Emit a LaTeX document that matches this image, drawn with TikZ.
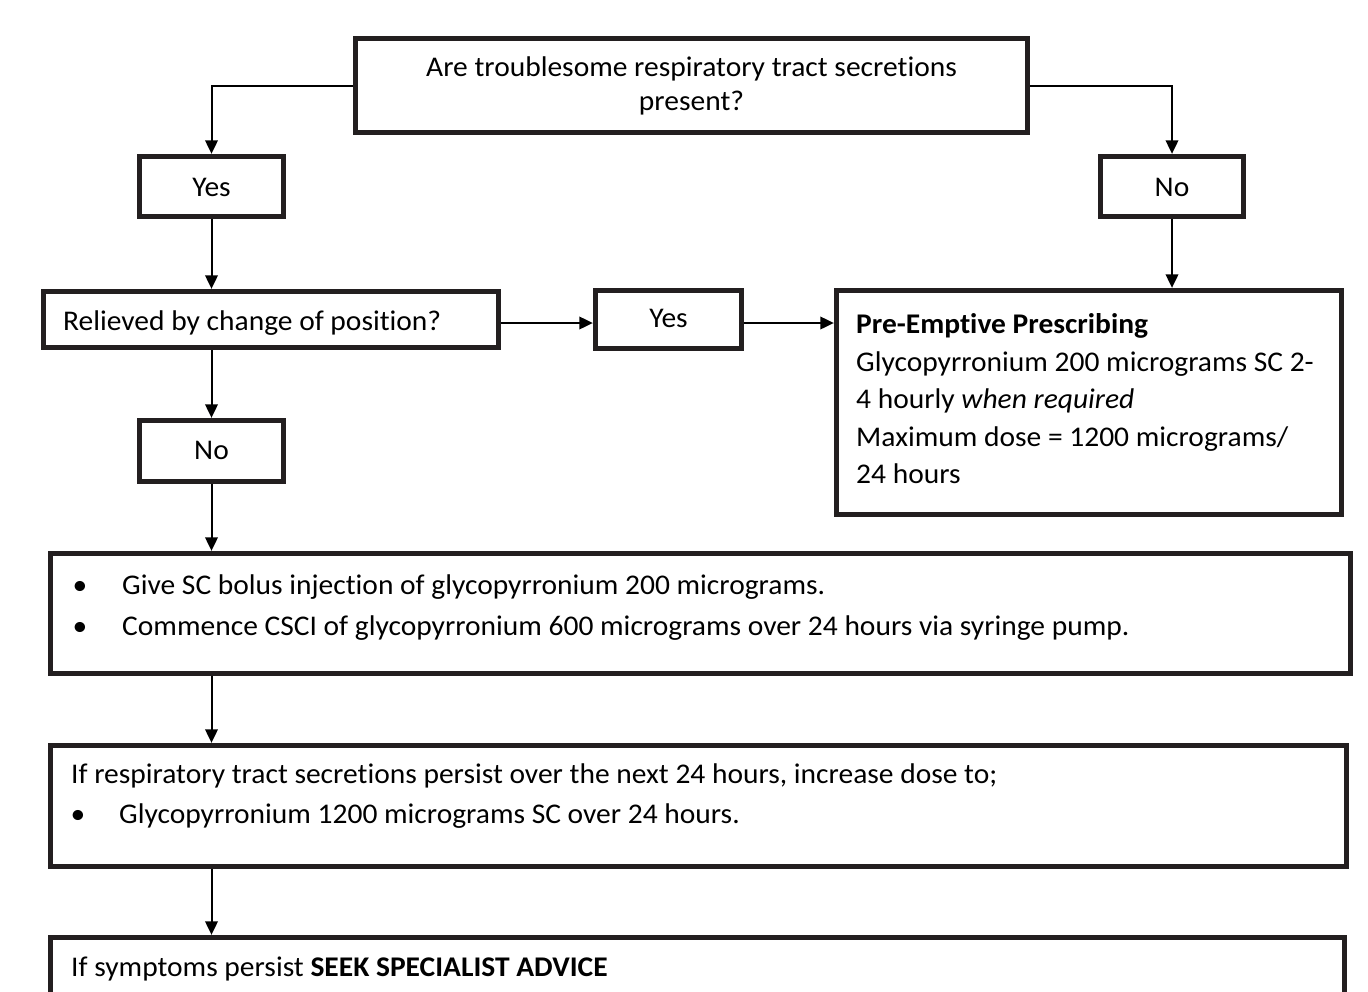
\documentclass[tikz,border=0pt]{standalone}
\usepackage{fontspec}
\setmainfont{Carlito}[FakeStretch=1.035,Ligatures=NoCommon]
\usetikzlibrary{arrows.meta}
\definecolor{ink}{RGB}{35,31,32}
\begin{document}
\begin{tikzpicture}[x=1pt,y=-1pt,
  box/.style={draw=ink,line width=4.8pt,inner sep=0pt,rectangle},
  conn/.style={draw=black,line width=2pt,-{Triangle[length=13.5pt,width=12.5pt]}},
  txt/.style={inner sep=0pt,anchor=base west,font=\fontsize{28.5}{32}\selectfont},
  ctxt/.style={inner sep=0pt,anchor=base,font=\fontsize{28.5}{32}\selectfont}]
\path[use as bounding box, clip] (0,0) rectangle (1368,991);
\fill[white] (0,0) rectangle (1368,991);
% boxes
\node[box,minimum width=672.5pt,minimum height=94.5pt] (top) at (691.5,85.5) {};
\node[box,minimum width=144.5pt,minimum height=60.5pt] (yesL) at (211.5,186.5) {};
\node[box,minimum width=143.5pt,minimum height=60.5pt] (noR) at (1172,186.5) {};
\node[box,minimum width=455.5pt,minimum height=56.5pt] (rel) at (271,319.5) {};
\node[box,minimum width=146.5pt,minimum height=58.5pt] (yesM) at (668.5,319.5) {};
\node[box,minimum width=505.5pt,minimum height=224.5pt] (pre) at (1089,402.5) {};
\node[box,minimum width=144.5pt,minimum height=61.5pt] (noL) at (211.5,451) {};
\node[box,minimum width=1300.5pt,minimum height=120.5pt] (b1) at (700.5,613.5) {};
\node[box,minimum width=1296.5pt,minimum height=121.5pt] (b2) at (698.5,806) {};
\node[box,minimum width=1294.5pt,minimum height=70.5pt] (b3) at (697.5,972.5) {};
% texts
\node[ctxt] (t1) at (691.5,76) {Are troublesome respiratory tract secretions};
\node[ctxt] (t2) at (691.5,110) {present?};
\node[ctxt] (tyL) at (211.5,196) {Yes};
\node[ctxt] (tnR) at (1172,196) {No};
\node[txt] (trel) at (63,330) {Relieved by change of position?};
\node[ctxt] (tyM) at (668.5,327) {Yes};
\node[txt] (p1) at (856,333) {\bfseries Pre-Emptive Prescribing};
\node[txt] (p2) at (856,371) {Glycopyrronium 200 micrograms SC 2-};
\node[txt] (p3) at (856,408) {4 hourly \textit{when required}};
\node[txt] (p4) at (856,446) {Maximum dose = 1200 micrograms/};
\node[txt] (p5) at (856,483) {24 hours};
\node[ctxt] (tnL) at (211.5,459) {No};
\node[ctxt] (bu1) at (80,594) {•};
\node[txt] (l1) at (122,594) {Give SC bolus injection of glycopyrronium 200 micrograms.};
\node[ctxt] (bu2) at (80,635) {•};
\node[txt] (l2) at (122,635) {Commence CSCI of glycopyrronium 600 micrograms over 24 hours via syringe pump.};
\node[txt] (m1) at (71,783) {If respiratory tract secretions persist over the next 24 hours, increase dose to;};
\node[ctxt] (bu3) at (78,823) {•};
\node[txt] (m2) at (119,823) {Glycopyrronium 1200 micrograms SC over 24 hours.};
\node[txt] (s1) at (71,976) {If symptoms persist \textbf{SEEK SPECIALIST ADVICE}};
% connectors
\draw[conn] (top.west) -| (yesL.north);
\draw[conn] (top.east) -| (noR.north);
\draw[conn] (yesL.south) -- (yesL.south |- rel.north);
\draw[conn] (noR.south) -- (noR.south |- pre.north);
\draw[conn] ([yshift=-3.5pt]rel.east) -- ([yshift=-3.5pt]yesM.west);
\draw[conn] ([yshift=-3.5pt]yesM.east) -- ([yshift=-3.5pt]yesM.east -| pre.west);
\draw[conn] (noL.north |- rel.south) -- (noL.north);
\draw[conn] (noL.south) -- (noL.south |- b1.north);
\draw[conn] (noL.south |- b1.south) -- (noL.south |- b2.north);
\draw[conn] (noL.south |- b2.south) -- (noL.south |- b3.north);
\end{tikzpicture}
\end{document}
